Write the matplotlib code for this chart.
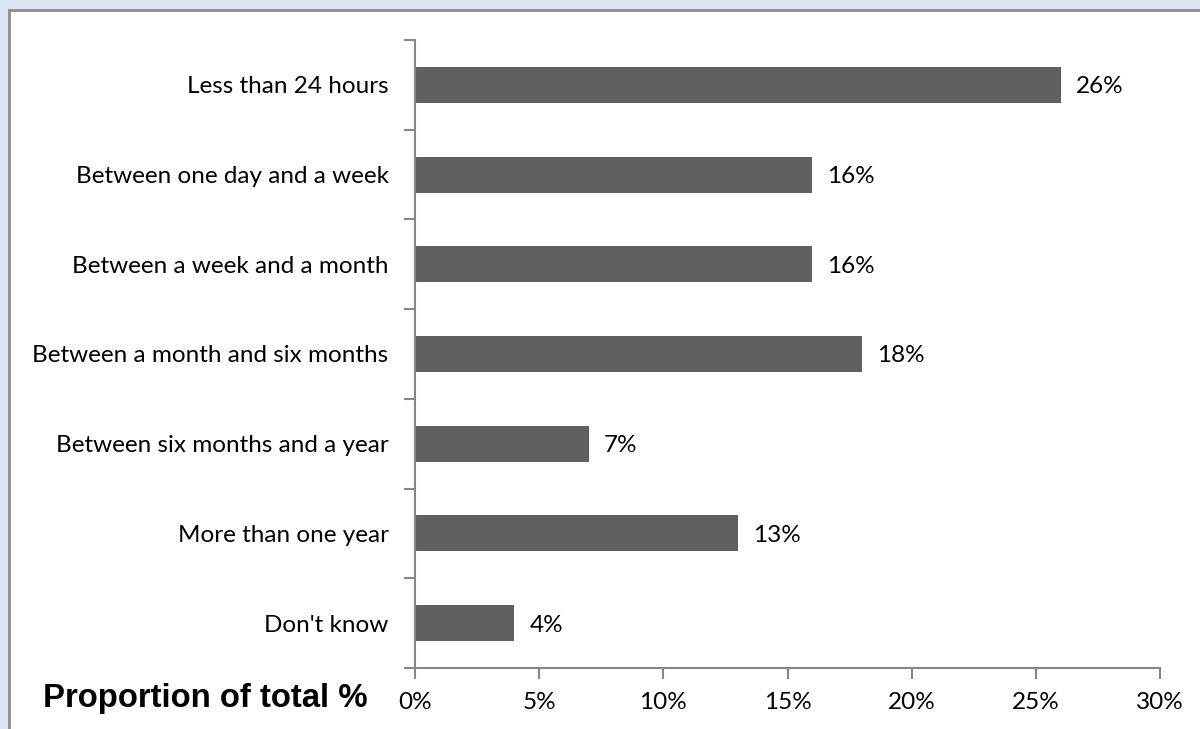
import matplotlib
matplotlib.use('Agg')
import matplotlib.pyplot as plt
from matplotlib.patches import Rectangle
from matplotlib.ticker import FixedLocator, PercentFormatter

# data
categories = ['Less than 24 hours', 'Between one day and a week', 'Between a week and a month',
              'Between a month and six months', 'Between six months and a year',
              'More than one year', "Don't know"]
values = [26, 16, 16, 18, 7, 13, 4]
xticks = [0, 5, 10, 15, 20, 25, 30]

plt.rcParams['font.family'] = ['Lato', 'DejaVu Sans']
fs = 17.5

fig = plt.figure(figsize=(12, 7.29), dpi=100)
fig.patch.set_facecolor('#dbe4f0')

# white chart panel with grey border (cut off at right and bottom)
panel = Rectangle((9 / 1200, -0.02), 1.05, 1 - 10 / 729 + 0.02, transform=fig.transFigure,
                  facecolor='white', edgecolor='#8c8c8c', linewidth=2, zorder=-10)
fig.patches.append(panel)

ax = fig.add_axes([415 / 1200, 1 - 668 / 729, (1160 - 415) / 1200, (668 - 40) / 729])
ax.set_facecolor('none')

n = len(categories)
ypos = list(range(n))
ax.barh(ypos, values, height=0.4, color='#606060')
for y, v in zip(ypos, values):
    ax.text(v + 0.6, y, f'{v}%', va='center_baseline', ha='left', fontsize=fs, color='black')

ax.set_xlim(0, 30)
ax.set_ylim(n - 0.5, -0.5)
ax.set_xticks(xticks)
ax.xaxis.set_major_formatter(PercentFormatter(decimals=0))
ax.set_yticks(ypos)
ax.set_yticklabels(categories, va='center_baseline')
ax.yaxis.set_minor_locator(FixedLocator([i - 0.5 for i in range(n + 1)]))

for s in ['top', 'right']:
    ax.spines[s].set_visible(False)
for s in ['left', 'bottom']:
    ax.spines[s].set_color('#868686')
    ax.spines[s].set_linewidth(1.5)

ax.tick_params(axis='y', which='major', length=0, pad=19, labelsize=fs)
ax.tick_params(axis='y', which='minor', length=8, width=1.5, color='#868686', direction='out')
ax.tick_params(axis='x', which='major', length=8, width=1.5, color='#868686', direction='out',
               labelsize=fs, pad=9)

fig.text(43 / 1200, 1 - 698 / 729, 'Proportion of total %', fontsize=23.7, fontweight='bold',
         family=['Liberation Sans', 'DejaVu Sans'], va='center', ha='left')

fig.savefig('out.png', dpi=100, facecolor=fig.get_facecolor())
